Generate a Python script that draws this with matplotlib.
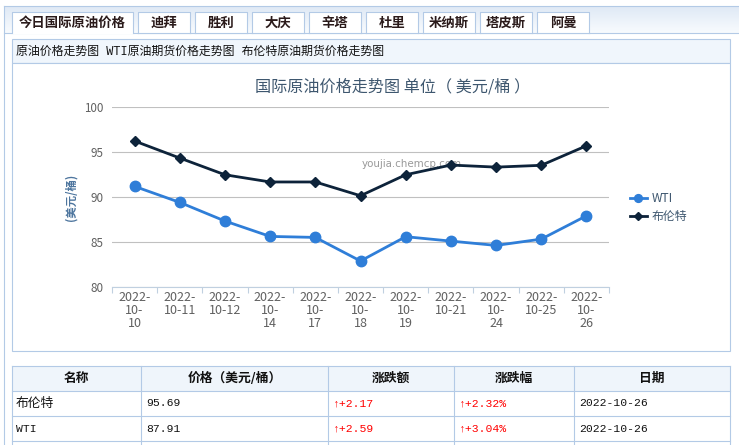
import numpy as np
import matplotlib
matplotlib.use('Agg')
from matplotlib import pyplot as plt
from matplotlib.patches import Rectangle
from matplotlib.colors import LinearSegmentedColormap

plt.rcParams['font.family'] = ['Noto Sans CJK SC', 'DejaVu Sans']
plt.rcParams['axes.unicode_minus'] = False

# 数据
dates = ['2022-10-10', '2022-10-11', '2022-10-12', '2022-10-14', '2022-10-17', '2022-10-18',
         '2022-10-19', '2022-10-21', '2022-10-24', '2022-10-25', '2022-10-26']
xlabels = ['2022-\n10-\n10', '2022-\n10-11', '2022-\n10-12', '2022-\n10-\n14', '2022-\n10-\n17',
           '2022-\n10-\n18', '2022-\n10-\n19', '2022-\n10-21', '2022-\n10-\n24', '2022-\n10-25',
           '2022-\n10-\n26']
wti = [91.18, 89.40, 87.33, 85.62, 85.51, 82.89, 85.59, 85.10, 84.62, 85.32, 87.91]
brent = [96.22, 94.33, 92.47, 91.67, 91.67, 90.14, 92.47, 93.55, 93.32, 93.52, 95.69]

tabs = ['今日国际原油价格', '迪拜', '胜利', '大庆', '辛塔', '杜里', '米纳斯', '塔皮斯', '阿曼']
links = '原油价格走势图 WTI原油期货价格走势图 布伦特原油期货价格走势图'

tbl_head = ['名称', '价格（美元/桶）', '涨跌额', '涨跌幅', '日期']
tbl_name = ['布伦特', 'WTI']
tbl_price = ['95.69', '87.91']
tbl_chg = ['+2.17', '+2.59']
tbl_pct = ['+2.32%', '+3.04%']
tbl_date = ['2022-10-26', '2022-10-26']

W, H = 739, 445
fig = plt.figure(figsize=(W / 100, H / 100), dpi=100)
bd = '#b3cae6'   # 边框颜色
lw = 0.8

# 页面背景层（像素坐标）
pg = fig.add_axes([0, 0, 1, 1])
pg.set_xlim(0, W)
pg.set_ylim(H, 0)
pg.axis('off')

# 标签栏渐变背景
cm = LinearSegmentedColormap.from_list('g', ['#dfe9f5', '#f8fbfe'])
pg.imshow(np.linspace(0, 1, 50)[:, None], extent=[4, W, 33, 6], cmap=cm, aspect='auto', zorder=0)
pg.plot([4, W], [6, 6], color=bd, lw=lw)
pg.plot([4, 4], [6, H], color=bd, lw=lw)
pg.plot([4, W], [33, 33], color=bd, lw=lw, zorder=1)

# 标签页
for i, name in enumerate(tabs):
    if i == 0:
        x0, w = 12, 121
    else:
        x0, w = 138 + (i - 1) * 57, 52
    pg.add_patch(Rectangle((x0, 12), w, 21.5, facecolor='white', edgecolor='none', zorder=2))
    pg.plot([x0, x0, x0 + w, x0 + w], [33, 12, 12, 33], color=bd, lw=lw, zorder=3)
    if i != 0:
        pg.plot([x0, x0 + w], [33, 33], color=bd, lw=lw, zorder=3)
    pg.text(x0 + w / 2, 23, name, ha='center', va='center', fontsize=9.6,
            fontweight='bold', color='#2a1a1a', zorder=4)

# 链接栏
pg.add_patch(Rectangle((12, 39), 718, 24, facecolor='#f0f6fc', edgecolor=bd, lw=lw))
pg.text(16, 51.5, links, ha='left', va='center', fontsize=8.6,
        family=['Liberation Mono', 'Noto Sans CJK SC'], color='#111111')

# 图表区外框
pg.add_patch(Rectangle((12, 63), 718, 288, facecolor='white', edgecolor=bd, lw=lw))

# 标题、单位、水印
pg.text(393, 87, '国际原油价格走势图 单位（ 美元/桶 ）', ha='center', va='center',
        fontsize=11.6, color='#3E576F')
pg.text(71, 197, '(美元/桶)', ha='center', va='center', rotation=90,
        fontsize=8.2, fontweight='bold', color='#4d759e')
pg.text(362, 164, 'youjia.chemcp.com', ha='left', va='center', fontsize=7.4,
        color='#999999', family='DejaVu Sans', zorder=1)

# 表格
cols = [12, 141, 328, 454, 574, 730]
rows = [366, 391, 416, 441, H + 5]
pg.add_patch(Rectangle((12, 366), 718, 25, facecolor='#eff5fb', edgecolor='none'))
for y in rows[:-1]:
    pg.plot([12, 730], [y, y], color=bd, lw=lw)
for x in cols:
    pg.plot([x, x], [366, H + 5], color=bd, lw=lw)
for j, h in enumerate(tbl_head):
    pg.text((cols[j] + cols[j + 1]) / 2, 378.5, h, ha='center', va='center',
            fontsize=9.2, fontweight='bold', color='#111111')
mono = ['Liberation Mono', 'DejaVu Sans']
for r in range(len(tbl_name)):
    yc = (rows[r + 1] + rows[r + 2]) / 2
    pg.text(cols[0] + 4, yc, tbl_name[r], ha='left', va='center', fontsize=9.2 if r == 0 else 8.2,
            family=['Noto Sans CJK SC'] if r == 0 else mono, color='#111111')
    pg.text(cols[1] + 5, yc, tbl_price[r], ha='left', va='center', fontsize=8.2,
            family=mono, color='#111111')
    pg.text(cols[2] + 5, yc, '↑' + tbl_chg[r], ha='left', va='center', fontsize=8.2,
            family=mono, color='#ff0000')
    pg.text(cols[3] + 5, yc, '↑' + tbl_pct[r], ha='left', va='center', fontsize=8.2,
            family=mono, color='#ff0000')
    pg.text(cols[4] + 5, yc, tbl_date[r], ha='left', va='center', fontsize=8.2,
            family=mono, color='#111111')

# 折线图
px0, px1, py0, py1 = 112, 609, 107, 287
ax = fig.add_axes([px0 / W, 1 - py1 / H, (px1 - px0) / W, (py1 - py0) / H])
ax.patch.set_alpha(0)
x = np.arange(len(dates))
ax.plot(x, wti, color='#2f7ed8', lw=2, marker='o', ms=7.5, label='WTI', zorder=3)
ax.plot(x, brent, color='#0d233a', lw=2, marker='D', ms=5.5, label='布伦特', zorder=3)

ax.set_xlim(-0.5, len(dates) - 0.5)
ax.set_ylim(80, 100)
ax.set_yticks([80, 85, 90, 95, 100])
ax.grid(axis='y', color='#c0c0c0', lw=0.8)
ax.set_axisbelow(True)
for s in ['top', 'right', 'left']:
    ax.spines[s].set_visible(False)
ax.spines['bottom'].set_color('#c0d0e0')
ax.spines['bottom'].set_linewidth(0.8)
ax.spines['bottom'].set_zorder(2)
ax.tick_params(axis='y', length=0, pad=6, labelsize=8.4, labelcolor='#606060')
ax.set_xticks(x)
ax.set_xticklabels(xlabels, linespacing=1.0)
ax.set_xticks(np.arange(-0.5, len(dates)), minor=True)
ax.tick_params(axis='x', which='major', length=0, pad=3, labelsize=9, labelcolor='#606060')
ax.tick_params(axis='x', which='minor', length=4, width=0.8, color='#c0d0e0', direction='out')

leg = ax.legend(loc='upper left', bbox_to_anchor=(624 / W, 1 - 186 / H), bbox_transform=fig.transFigure,
                frameon=False, fontsize=8.6, handlelength=1.4, handletextpad=0.4,
                labelspacing=0.45, borderpad=0, markerscale=0.75)
for t in leg.get_texts():
    t.set_color('#3E576F')

fig.savefig('out.png', dpi=100)
